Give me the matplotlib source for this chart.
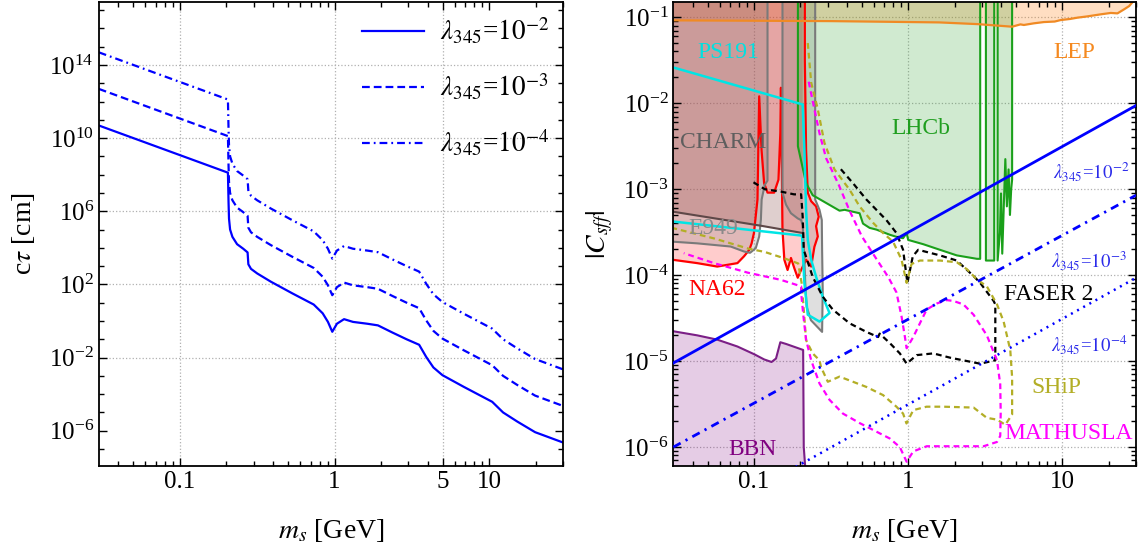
import numpy as np
import matplotlib
matplotlib.use("Agg")
import matplotlib.pyplot as plt
from matplotlib.ticker import NullFormatter

plt.rcParams['font.family'] = 'serif'
plt.rcParams['font.serif'] = ['Liberation Serif', 'DejaVu Serif']
plt.rcParams['mathtext.fontset'] = 'stix'

# ---------------- left panel: c*tau (log10 values) ----------------
ms_log = [-1.523, -0.689, -0.685, -0.682, -0.675, -0.660, -0.630, -0.590, -0.562, -0.557,
          -0.540, -0.500, -0.412, -0.273, -0.135, -0.077, -0.043, -0.015, 0.015, 0.061,
          0.119, 0.211, 0.280, 0.373, 0.465, 0.546, 0.592, 0.638, 0.696, 0.834, 1.018,
          1.088, 1.180, 1.295, 1.477]
ctau_l2 = [10.69, 8.11, 6.5, 5.6, 5.0, 4.6, 4.2, 3.95, 3.75, 3.1,
           2.85, 2.6, 2.15, 1.51, 0.90, 0.42, -0.05, -0.59, -0.15, 0.10,
           -0.05, -0.15, -0.24, -0.63, -1.00, -1.30, -1.97, -2.54, -2.96, -3.60, -4.42,
           -5.00, -5.50, -6.08, -6.65]
ctau_l3 = [12.69, 10.11, 8.5, 7.6, 7.0, 6.6, 6.2, 5.95, 5.75, 5.1,
           4.85, 4.6, 4.15, 3.51, 2.90, 2.42, 1.95, 1.41, 1.85, 2.10,
           1.95, 1.85, 1.76, 1.37, 1.00, 0.70, 0.03, -0.54, -0.96, -1.60, -2.42,
           -3.00, -3.50, -4.08, -4.65]
ctau_l4 = [14.69, 12.11, 10.5, 9.6, 9.0, 8.6, 8.2, 7.95, 7.75, 7.1,
           6.85, 6.6, 6.15, 5.51, 4.90, 4.42, 3.95, 3.41, 3.85, 4.10,
           3.95, 3.85, 3.76, 3.37, 3.00, 2.70, 2.03, 1.46, 1.04, 0.40, -0.42,
           -1.00, -1.50, -2.08, -2.65]
legend_labels = [r'$\lambda_{345}$=$10^{-2}$', r'$\lambda_{345}$=$10^{-3}$', r'$\lambda_{345}$=$10^{-4}$']

# ---------------- right panel: |C_sff| regions (log10 m, log10 C) ----------------
lep_m = [-1.531, -0.5, 0.2, 0.45, 0.674, 0.728, 0.75, 0.814, 0.88, 0.95, 0.988, 1.05, 1.097,
         1.162, 1.249, 1.314, 1.357, 1.4, 1.433, 1.455, 1.49]
lep_c = [-1.036, -1.045, -1.06, -1.08, -1.11, -1.083, -1.09, -1.071, -1.056, -1.05, -1.033, -1.02,
         -1.005, -0.99, -0.966, -0.95, -0.955, -0.908, -0.87, -0.823, -0.75]

charm_m = [-1.531, -0.955, -0.684]
charm_c = [-3.26, -3.425, -3.51]

na62_m = [-1.531, -1.531, -1.368, -1.238, -1.107, -1.064, -1.03, -1.015, -1.0, -0.977, -0.966,
          -0.951, -0.934, -0.912, -0.869, -0.841, -0.829, -0.825, -0.815, -0.803, -0.782, -0.76,
          -0.738, -0.716, -0.694, -0.662, -0.629, -0.608, -0.586, -0.597, -0.58, -0.597, -0.629,
          -0.651, -0.662, -0.67, -0.67]
na62_c = [-0.3, -3.82, -3.86, -3.90, -3.86, -3.78, -3.705, -3.63, -3.51, -3.12, -1.92,
          -2.54, -2.93, -3.04, -3.04, -2.89, -2.35, -1.82, -3.47, -3.82, -3.94, -3.80,
          -3.92, -4.03, -3.94, -3.82, -3.90, -3.67, -3.55, -3.43, -3.32, -3.2, -3.14,
          -3.04, -2.54, -1.5, -0.3]

e949_m = [-1.531, -1.531, -1.368, -1.151, -1.064, -1.025, -0.988, -0.966, -0.955, -0.95, -0.93,
          -0.912, -0.912, -0.815, -0.815, -0.792, -0.76, -0.716, -0.694, -0.684, -0.676, -0.667,
          -0.658, -0.63, -0.558, -0.554, -0.558, -0.56, -0.575, -0.603, -0.603, -0.603]
e949_c = [-0.3, -3.61, -3.63, -3.667, -3.725, -3.74, -3.685, -3.55, -3.355, -3.12, -2.95,
          -2.9, -0.3, -0.3, -3.04, -3.18, -3.28, -3.34, -3.36, -3.42, -3.7, -4.1,
          -4.37, -4.525, -4.66, -4.175, -3.708, -3.358, -3.24, -3.12, -2.5, -0.3]

ps191_m = [-1.531, -0.684, -0.673, -0.662, -0.651, -0.629, -0.597, -0.554, -0.51, -0.575,
           -0.651, -0.673, -0.684, -0.688, -1.531]
ps191_c = [-1.58, -2.015, -2.54, -3.24, -3.59, -3.82, -4.02, -4.25, -4.44, -4.54,
           -4.46, -4.09, -3.705, -3.54, -3.375]

lhcb_m = [-0.715, -0.715, -0.662, -0.619, -0.532, -0.445, -0.412, -0.315, -0.293, -0.25, -0.206,
          -0.119, -0.065, -0.033, -0.01, 0.0, 0.098, 0.206, 0.315, 0.446, 0.467, 0.467, 0.504,
          0.504, 0.558, 0.558, 0.58, 0.58, 0.595, 0.602, 0.61, 0.62, 0.63, 0.64, 0.651, 0.66,
          0.668, 0.674, 0.674]
lhcb_c = [-0.3, -2.50, -2.93, -3.07, -3.16, -3.25, -3.24, -3.28, -3.40, -3.45, -3.47,
          -3.53, -3.56, -3.57, -3.51, -3.59, -3.64, -3.705, -3.77, -3.81, -3.81, -0.3, -0.3,
          -3.83, -3.83, -0.3, -0.3, -3.83, -3.5, -3.05, -3.75, -3.2, -2.65, -3.2, -2.77, -3.3,
          -3.0, -2.89, -0.3]

bbn_m = [-1.531, -1.368, -1.238, -1.107, -0.998, -0.934, -0.886, -0.857, -0.829, -0.792, -0.681,
         -0.677, -0.668, -0.665, -1.531]
bbn_c = [-4.65, -4.70, -4.75, -4.83, -4.92, -4.98, -5.01, -4.97, -4.78, -4.80, -4.87,
         -6.0, -6.22, -7.0, -7.0]

faser_m = [-1.003, -0.93, -0.82, -0.74, -0.694, -0.684, -0.677, -0.619, -0.554, -0.489, -0.38,
           -0.271, -0.195, -0.185, -0.119, -0.054, -0.01, 0.055, 0.163, 0.272, 0.467, 0.565,
           0.565, 0.554, 0.467, 0.424, 0.315, 0.206, 0.065, 0.03, -0.005, -0.033, -0.076,
           -0.141, -0.206, -0.271, -0.358, -0.445]
faser_c = [-2.92, -3.0, -3.03, -3.06, -3.06, -3.32, -3.705, -4.02, -4.25, -4.40, -4.56,
           -4.66, -4.72, -4.68, -4.79, -4.91, -5.03, -4.93, -4.91, -4.96, -5.03, -4.99,
           -4.34, -4.30, -4.09, -4.01, -3.83, -3.77, -3.705, -3.78, -4.09, -3.705, -3.51,
           -3.36, -3.24, -3.12, -2.93, -2.75]

ship_m = [-0.651, -0.629, -0.586, -0.543, -0.478, -0.38, -0.315, -0.228, -0.163, -0.098, -0.043,
          -0.01, 0.022, 0.076, 0.206, 0.315, 0.38, 0.446, 0.51, 0.576, 0.619, 0.662, 0.674,
          0.674, 0.63, 0.576, 0.51, 0.424, 0.228, 0.119, 0.033, -0.011, -0.033, -0.076,
          -0.163, -0.271, -0.445, -0.521, -0.565, -0.575, -0.619, -0.662, -0.68, -0.69,
          -0.713, -0.80, -0.93, -1.039, -1.256, -1.531]
ship_c = [-1.30, -1.76, -2.07, -2.46, -2.77, -3.006, -3.20, -3.39, -3.51, -3.61, -3.82,
          -4.09, -3.87, -3.83, -3.83, -3.85, -3.93, -4.05, -4.13, -4.34, -4.54, -4.87, -5.19,
          -5.62, -5.74, -5.68, -5.66, -5.54, -5.53, -5.53, -5.57, -5.725, -5.61, -5.53,
          -5.395, -5.30, -5.18, -5.24, -5.07, -4.99, -4.91, -4.756, -4.33, -4.1,
          -3.864, -3.806, -3.73, -3.69, -3.574, -3.45]

mathusla_m = [-0.645, -0.608, -0.575, -0.532, -0.45, -0.38, -0.30, -0.21, -0.13, -0.076, -0.043,
              -0.021, -0.01, 0.033, 0.076, 0.12, 0.185, 0.25, 0.293, 0.358, 0.424, 0.51, 0.576,
              0.597, 0.60, 0.597, 0.576, 0.489, 0.315, 0.12, 0.033, -0.01, -0.054, -0.119,
              -0.206, -0.315, -0.423, -0.51, -0.575, -0.629, -0.662, -0.679, -0.694, -0.694,
              -0.825, -1.042, -1.259, -1.455]
mathusla_c = [-1.75, -2.07, -2.35, -2.64, -2.95, -3.25, -3.55, -3.80, -4.02, -4.2, -4.48,
              -4.72, -4.85, -4.72, -4.56, -4.40, -4.33, -4.29, -4.30, -4.34, -4.46, -4.70, -4.99,
              -5.27, -5.6, -5.87, -5.94, -5.99, -5.99, -5.99, -6.05, -6.17, -6.0, -5.90,
              -5.82, -5.72, -5.61, -5.45, -5.26, -4.99, -4.75, -4.48, -4.21, -4.13,
              -4.055, -3.97, -3.86, -3.744]

# benchmark lines |C| vs m for three couplings (end points)
lam_m = [0.03, 30]
lam2_c = [9.5e-6, 9.4e-3]
lam3_c = [1.0e-6, 8.5e-4]
lam4_c = [9.5e-8, 9.3e-5]

region_labels = ['PS191', 'CHARM', 'E949', 'NA62', 'BBN', 'LHCb', 'LEP', 'FASER 2', 'SHiP', 'MATHUSLA']
label_m = [0.0686, 0.063, 0.0545, 0.0578, 0.098, 1.2, 12, 8.1, 9.2, 10.9]
label_c = [0.0394, 3.47e-3, 3.47e-4, 6.9e-5, 9.3e-7, 5.1e-3, 0.039, 6.0e-5, 4.9e-6, 1.45e-6]
label_col = ['#00e0e0', '#5e5e5e', '#8a8a8a', '#ff0000', '#800080', '#1f9e1f', '#f5891f',
             'black', '#b3ae26', '#ff00ff']
lam_text = [r'$\lambda_{345}$=$10^{-2}$', r'$\lambda_{345}$=$10^{-3}$', r'$\lambda_{345}$=$10^{-4}$']
lam_text_m = [15.3, 14.9, 14.9]
lam_text_c = [1.6e-3, 1.48e-4, 1.55e-5]


def p10(v):
    return 10 ** np.asarray(v, dtype=float)


fig = plt.figure(figsize=(11.41, 5.48), dpi=100)
ax1 = fig.add_axes([0.0866, 0.1496, 0.4071, 0.8467])
ax2 = fig.add_axes([0.5901, 0.1496, 0.4055, 0.8467])

gridkw = dict(color='#b0b0b0', ls=':', lw=0.9, zorder=0)

# ---- left ----
for xv in [0.1, 1, 5]:
    ax1.axvline(xv, **gridkw)
for yv in [1e-2, 1e2, 1e6, 1e10, 1e14]:
    ax1.axhline(yv, **gridkw)

ms = p10(ms_log)
ax1.plot(ms, p10(ctau_l2), color='#0000ff', lw=1.6, label=legend_labels[0])
ax1.plot(ms, p10(ctau_l3), color='#0000ff', lw=1.6, dashes=[3.5, 1.8], label=legend_labels[1])
ax1.plot(ms, p10(ctau_l4), color='#0000ff', lw=1.6, dashes=[3.5, 1.8, 0.8, 1.8], label=legend_labels[2])

ax1.set_xscale('log')
ax1.set_yscale('log')
ax1.set_xticks([0.1, 1, 5, 10])
ax1.set_xticklabels(['0.1', '1', '5', '10'])
ax1.set_xticks([0.04, 0.05, 0.06, 0.07, 0.08, 0.09, 0.2, 0.3, 0.4, 0.5, 0.6, 0.7, 0.8, 0.9,
                2, 3, 4, 6, 7, 8, 9, 20, 30], minor=True)
ax1.set_yticks([1e-6, 1e-2, 1e2, 1e6, 1e10, 1e14])
ax1.set_yticks([10.0 ** k for k in range(-7, 18)], minor=True)
ax1.xaxis.set_minor_formatter(NullFormatter())
ax1.yaxis.set_minor_formatter(NullFormatter())
ax1.set_xlim(0.03, 30)
ax1.set_ylim(10 ** -7.93, 10 ** 17.44)
ax1.set_xlabel(r'$m_s$ [GeV]', fontsize=20)
ax1.set_ylabel(r'c$\tau$ [cm]', fontsize=20)
ax1.xaxis.set_label_coords(0.5, -0.138)
ax1.xaxis.label.set_va('center')
ax1.yaxis.set_label_coords(-0.163, 0.5)
ax1.yaxis.label.set_va('center')
leg = ax1.legend(loc='upper right', bbox_to_anchor=(1.0, 1.0), frameon=False, fontsize=19.5,
                 handlelength=2.3, handletextpad=0.6, labelspacing=0.95, borderaxespad=0.1)

# ---- right ----
for xv in [0.1, 1, 10]:
    ax2.axvline(xv, **gridkw)
for yv in [1e-1, 1e-2, 1e-3, 1e-4, 1e-5, 1e-6]:
    ax2.axhline(yv, **gridkw)


def region(ax, lm, lc, face, alpha, edge=None, lw=1.5, z=1):
    m, c = p10(lm), p10(lc)
    ax.fill(m, c, facecolor=face, alpha=alpha, edgecolor='none', zorder=z)
    if edge is not None:
        ax.plot(np.append(m, m[0]), np.append(c, c[0]), color=edge, lw=lw, zorder=z + 0.5)


# LEP (fill above the line)
region(ax2, lep_m + [1.49, -1.531], lep_c + [-0.3, -0.3], '#ff7f0e', 0.25)
ax2.plot(p10(lep_m), p10(lep_c), color='#f08a24', lw=1.6, zorder=1.6)
# CHARM
region(ax2, charm_m + [-0.684, -1.531], charm_c + [-0.3, -0.3], '#8c4f4c', 0.27)
ax2.plot(p10(charm_m), p10(charm_c), color='#5e4848', lw=1.5, zorder=1.6)
region(ax2, na62_m, na62_c, '#ff0000', 0.2, edge='#ff0000', lw=1.6)
region(ax2, e949_m, e949_c, '#808080', 0.25, edge='#7a7a7a', lw=1.5)
region(ax2, lhcb_m, lhcb_c, '#2ca02c', 0.22, edge='#1aa01a', lw=1.5)
region(ax2, bbn_m, bbn_c, '#800080', 0.2, edge='#7b1f86', lw=1.5)
ax2.plot(p10(ps191_m), p10(ps191_c), color='#00e5e5', lw=1.8, zorder=2)

ax2.plot(p10(faser_m), p10(faser_c), color='black', lw=1.6, dashes=[2.6, 1.8], zorder=2.2)
ax2.plot(p10(ship_m), p10(ship_c), color='#b3ae26', lw=1.6, dashes=[2.6, 1.8], zorder=2.2)
ax2.plot(p10(mathusla_m), p10(mathusla_c), color='#ff00ff', lw=1.6, dashes=[2.6, 1.8], zorder=2.2)

ax2.plot(lam_m, lam2_c, color='#0000ff', lw=2.0, zorder=3)
ax2.plot(lam_m, lam3_c, color='#0000ff', lw=2.0, dashes=[3.0, 2.0, 0.8, 2.0], zorder=3)
ax2.plot(lam_m, lam4_c, color='#0000ff', lw=1.8, dashes=[0.8, 2.0], zorder=3)

for t, xm, yc, col in zip(region_labels, label_m, label_c, label_col):
    ax2.text(xm, yc, t, color=col, fontsize=17, ha='center', va='center', zorder=4)
for t, xm, yc in zip(lam_text, lam_text_m, lam_text_c):
    ax2.text(xm, yc, t, color='#2b2bea', fontsize=13.5, ha='center', va='center', zorder=4)

ax2.set_xscale('log')
ax2.set_yscale('log')
ax2.set_xticks([0.1, 1, 10])
ax2.set_xticklabels(['0.1', '1', '10'])
ax2.set_xticks([0.04, 0.05, 0.06, 0.07, 0.08, 0.09, 0.2, 0.3, 0.4, 0.5, 0.6, 0.7, 0.8, 0.9,
                2, 3, 4, 5, 6, 7, 8, 9, 20, 30], minor=True)
ax2.set_yticks([1e-6, 1e-5, 1e-4, 1e-3, 1e-2, 1e-1])
ax2.set_yticks([k * 10.0 ** e for e in range(-7, 0) for k in range(2, 10)], minor=True)
ax2.xaxis.set_minor_formatter(NullFormatter())
ax2.yaxis.set_minor_formatter(NullFormatter())
ax2.set_xlim(0.03, 30)
ax2.set_ylim(10 ** -6.22, 10 ** -0.823)
ax2.set_xlabel(r'$m_s$ [GeV]', fontsize=20)
ax2.set_ylabel(r'$|C_{sff}|$', fontsize=20)
ax2.xaxis.set_label_coords(0.5, -0.138)
ax2.xaxis.label.set_va('center')
ax2.yaxis.set_label_coords(-0.158, 0.5)
ax2.yaxis.label.set_va('center')

for ax in (ax1, ax2):
    ax.tick_params(which='both', direction='in', top=True, right=True, labelsize=18, width=1.0)
    ax.tick_params(which='major', length=6)
    ax.tick_params(which='minor', length=3.5)
    for s in ax.spines.values():
        s.set_linewidth(1.3)

fig.savefig('out.png', dpi=100)
